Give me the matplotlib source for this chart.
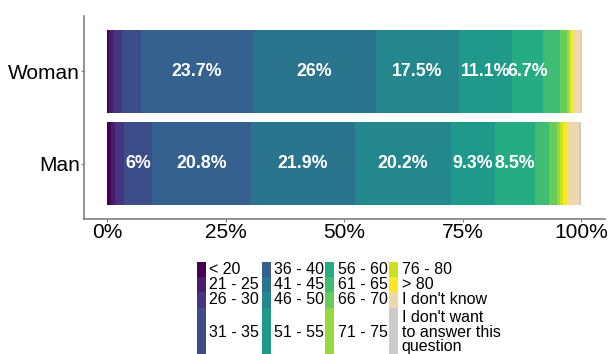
import numpy as np
import matplotlib
matplotlib.use("Agg")
from matplotlib import pyplot as plt
from matplotlib.patches import Rectangle

plt.rcParams['font.family'] = ['Liberation Sans', 'DejaVu Sans']

genders = ["Man", "Woman"]
age_groups = ["< 20", "21 - 25", "26 - 30", "31 - 35", "36 - 40", "41 - 45",
              "46 - 50", "51 - 55", "56 - 60", "61 - 65", "66 - 70", "71 - 75",
              "76 - 80", "> 80", "I don't know",
              "I don't want\nto answer this\nquestion"]

# percent of respondents in each age group
man_pct = [0.7, 0.85, 1.95, 6.0, 20.8, 21.9, 20.2, 9.3, 8.5, 2.9, 1.8, 0.7,
           0.6, 0.85, 2.45, 0.5]
woman_pct = [0.4, 0.85, 1.75, 4.0, 23.7, 26.0, 17.5, 11.1, 6.7, 3.4, 1.6, 0.35,
             0.5, 0.42, 1.6, 0.3]

colors = list(plt.cm.viridis(np.linspace(0, 1, 14))) + ["#EDD8AC", "#CBCBCB"]

W, H = 612, 354
fig = plt.figure(figsize=(W / 100, H / 100), dpi=100)
ax = fig.add_axes([83.7 / W, 1 - 219 / H, (605 - 83.7) / W, (219 - 16) / H])

for row, vals in enumerate([man_pct, woman_pct]):
    y = row + 1
    left = 0
    for i, v in enumerate(vals):
        ax.barh(y, v, left=left, height=0.9, color=colors[i], linewidth=0)
        if v >= 5:
            lab = f"{v:g}%"
            ax.text(left + v / 2, y, lab, ha="center", va="center",
                    color="white", fontsize=12.8, fontweight="bold")
        left += v

ax.set_xlim(-5, 105)
ax.set_ylim(0.4, 2.6)
ax.set_yticks([1, 2])
ax.set_yticklabels(genders)
ax.set_xticks([0, 25, 50, 75, 100])
ax.set_xticklabels(["0%", "25%", "50%", "75%", "100%"])
ax.tick_params(labelsize=15, colors="#7F7F7F", labelcolor="black",
               length=2.2, width=0.8, pad=0.5)
for s in ["top", "right"]:
    ax.spines[s].set_visible(False)
for s in ["left", "bottom"]:
    ax.spines[s].set_color("#7F7F7F")
    ax.spines[s].set_linewidth(1.2)

# legend: 4 columns, filled by column
col_x = [196.7, 261.7, 325, 389.3]
row_edges = [262.3, 277.3, 292.3, 307.7, 356.5]
for i, lab in enumerate(age_groups):
    c, r = divmod(i, 4)
    x0 = col_x[c]
    y0, y1 = row_edges[r], row_edges[r + 1]
    fig.patches.append(Rectangle((x0 / W, 1 - y1 / H), 9 / W, (y1 - y0) / H,
                                 transform=fig.transFigure, color=colors[i],
                                 linewidth=0))
    fig.text((x0 + 12.5) / W, 1 - (y0 + y1) / 2 / H, lab, ha="left",
             va="center", fontsize=11.5, linespacing=0.95)

plt.savefig("out.png", dpi=100)
